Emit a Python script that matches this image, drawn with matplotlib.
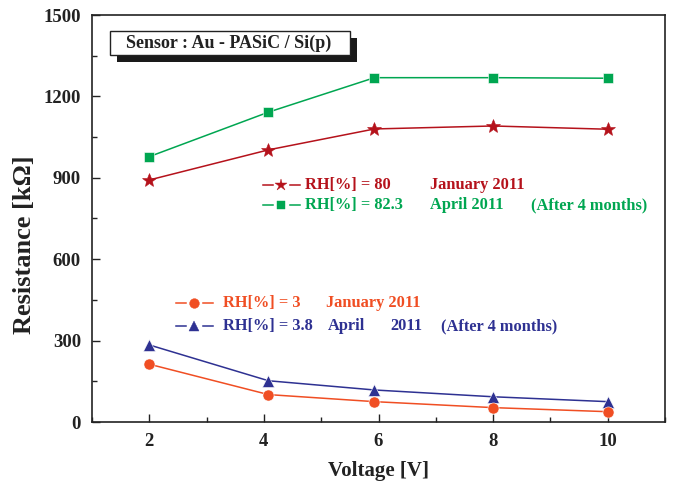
import matplotlib
matplotlib.use("Agg")
import matplotlib.pyplot as plt
from matplotlib.lines import Line2D
from matplotlib.patches import Rectangle
from matplotlib.ticker import MultipleLocator

# ---- data ----
voltage = [2, 4.08, 5.93, 8, 10]
rh80_jan = [892, 1003, 1080, 1091, 1079]
rh823_apr = [978, 1142, 1269, 1269, 1267]
rh3_jan = [213, 101, 75, 53, 38]
rh38_apr = [284, 152, 118, 93, 75]

x_ticks = [2, 4, 6, 8, 10]
y_ticks = [0, 300, 600, 900, 1200, 1500]

RED = "#B5121B"
GREEN = "#00A651"
ORANGE = "#F04E23"
BLUE = "#2E3192"
INK = "#222222"

plt.rcParams['font.family'] = ['Liberation Serif', 'DejaVu Serif']
plt.rcParams['font.weight'] = 'bold'

W, H = 673, 486
fig = plt.figure(figsize=(W / 100, H / 100), dpi=100)

def fx(px):
    return px / W

def fy(py):
    return 1 - py / H

ax = fig.add_axes([fx(92), fy(422), fx(665) - fx(92), fy(15) - fy(422)])

ax.plot(voltage, rh823_apr, color=GREEN, lw=1.1, marker='s', ms=7, mec='white', mew=0.4)
ax.plot(voltage, rh80_jan, color=RED, lw=1.1, marker='*', ms=10.5, mec=RED, mew=0.4)
ax.plot(voltage, rh38_apr, color=BLUE, lw=1.1, marker='^', ms=8.5, mec='white', mew=0.4)
ax.plot(voltage, rh3_jan, color=ORANGE, lw=1.1, marker='o', ms=8, mec='white', mew=0.4)

ax.set_xlim(1, 11)
ax.set_ylim(0, 1500)
ax.set_xticks(x_ticks)
ax.set_yticks(y_ticks)
ax.xaxis.set_minor_locator(MultipleLocator(1))
ax.yaxis.set_minor_locator(MultipleLocator(150))
ax.tick_params(which='both', direction='in', top=False, right=False, width=1.0, colors=INK)
ax.tick_params(which='major', length=6, labelsize=13.5, pad=8)
ax.tick_params(which='minor', length=3.5)
for lab in ax.get_xticklabels() + ax.get_yticklabels():
    lab.set_fontweight('bold')
for s in ax.spines.values():
    s.set_linewidth(1.2)
    s.set_color(INK)

ax.set_xlabel("Voltage [V]", fontsize=15, fontweight='bold', labelpad=8, color=INK)
fig.text(fx(25), fy(245), "Resistance [k\u03a9]", fontsize=19, fontweight='bold',
         rotation=90, ha='center', va='center', color=INK)

# ---- title box with shadow ----
fig.add_artist(Rectangle((fx(117), fy(62)), fx(357) - fx(117), fy(38) - fy(62),
                         transform=fig.transFigure, facecolor='#1a1a1a', edgecolor='none'))
fig.add_artist(Rectangle((fx(110), fy(55)), fx(350) - fx(110), fy(31) - fy(55),
                         transform=fig.transFigure, facecolor='white', edgecolor=INK, lw=1.0))
fig.text(fx(229), fy(43), "Sensor : Au - PASiC / Si(p)", fontsize=13, fontweight='bold',
         ha='center', va='center', color=INK)

# ---- manual legend ----
def legend_row(x0, xm, x1, gap, py, color, marker, ms, texts):
    fig.add_artist(Line2D([fx(x0), fx(xm - gap)], [fy(py)] * 2, transform=fig.transFigure,
                          color=color, lw=1.1))
    fig.add_artist(Line2D([fx(xm + gap), fx(x1)], [fy(py)] * 2, transform=fig.transFigure,
                          color=color, lw=1.1))
    fig.add_artist(Line2D([fx(xm)], [fy(py)], transform=fig.transFigure,
                          color=color, lw=0, marker=marker, ms=ms, mec=color, mew=0.3))
    for tx, s in texts:
        fig.text(fx(tx), fy(py), s, color=color, fontsize=11.8, fontweight='bold',
                 ha='left', va='center')

legend_row(263, 281, 300, 8.5, 185, RED, '*', 9,
           [(305, "RH[%] = 80"), (430, "January 2011")])
legend_row(263, 281, 300, 8.5, 205, GREEN, 's', 6,
           [(305, "RH[%] = 82.3"), (430, "April 2011"), (531, "(After 4 months)")])
legend_row(176, 194, 213, 8.5, 303, ORANGE, 'o', 7,
           [(223, "RH[%] = 3"), (326, "January 2011")])
legend_row(176, 194, 213, 8.5, 326, BLUE, '^', 7,
           [(223, "RH[%] = 3.8"), (328, "April"), (390, "2011"), (441, "(After 4 months)")])

fig.savefig("out.png", dpi=100)
